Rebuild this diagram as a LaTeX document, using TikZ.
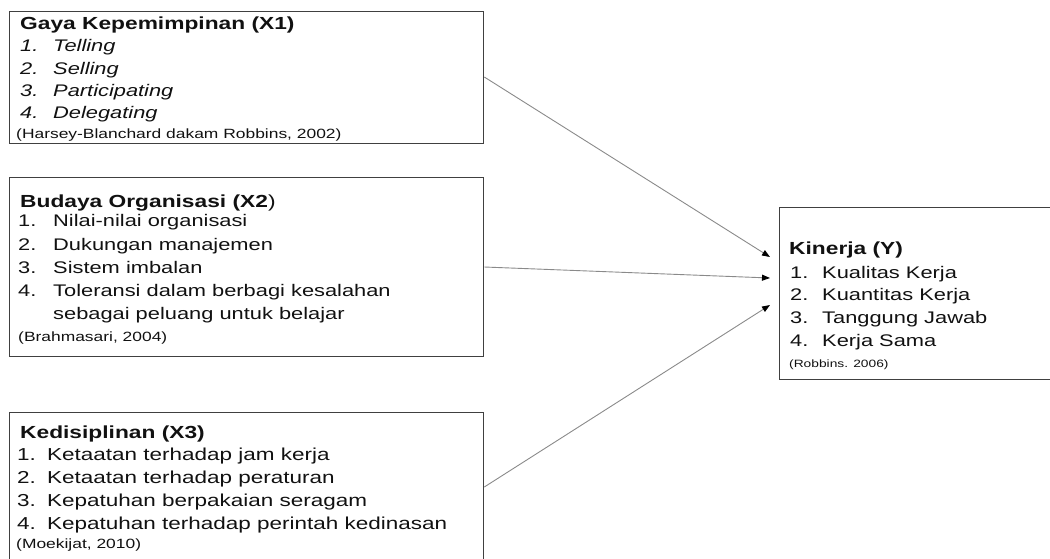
\documentclass[tikz,border=0pt]{standalone}
\usepackage{fontspec}
\setmainfont{Liberation Sans}[FakeStretch=1.3]
\usetikzlibrary{arrows.meta,calc}
\definecolor{boxgray}{HTML}{404040}
\definecolor{linegray}{HTML}{8A8A8A}
\definecolor{ink}{HTML}{111111}
\begin{document}
\begin{tikzpicture}[x=1pt,y=-1pt,
  box/.style={draw=boxgray, line width=1.3pt, rectangle, inner sep=0pt, anchor=north west},
  txt/.style={anchor=base west, inner sep=0pt, text=ink, font=\fontsize{16.8}{20}\selectfont},
  txtb/.style={txt, font=\fontsize{17.3}{20}\selectfont},
  ttl/.style={txt, font=\fontsize{17.5}{20}\selectfont\bfseries},
  cite/.style={anchor=base west, inner sep=0pt, text=ink, font=\fontsize{13.4}{15}\selectfont},
  citesm/.style={cite, font=\fontsize{10.6}{12}\selectfont},
  conn/.style={draw=linegray, line width=0.9pt, -{Triangle[length=8pt,width=6pt,color=black]}}]
\useasboundingbox (0,0) rectangle (1050,558);
\clip (0,0) rectangle (1050,558);
% boxes
\node[box, minimum width=474pt, minimum height=132pt] (x1) at (9,11) {};
\node[box, minimum width=474pt, minimum height=179pt] (x2) at (9,177) {};
\node[box, minimum width=474pt, minimum height=190pt] (x3) at (9,412) {};
\node[box, minimum width=301pt, minimum height=172pt] (y) at (779,207) {};
% box 1 text
\node[ttl] (x1t) at (20,29) {Gaya Kepemimpinan (X1)};
\node[txt] (x1a) at (20,51.7) {\itshape\makebox[33pt][l]{1.}Telling};
\node[txt] (x1b) at (20,74.2) {\itshape\makebox[33pt][l]{2.}Selling};
\node[txt] (x1c) at (20,96.7) {\itshape\makebox[33pt][l]{3.}Participating};
\node[txt] (x1d) at (20,118.7) {\itshape\makebox[33pt][l]{4.}Delegating};
\node[cite] (x1s) at (16,138.5) {(Harsey-Blanchard dakam Robbins, 2002)};
% box 2 text
\node[ttl] (x2t) at (20,207) {Budaya Organisasi (X2\mdseries)};
\node[txt] (x2a) at (18,226.7) {\makebox[35pt][l]{1.}Nilai-nilai organisasi};
\node[txt] (x2b) at (18,250) {\makebox[35pt][l]{2.}Dukungan manajemen};
\node[txt] (x2c) at (18,273.3) {\makebox[35pt][l]{3.}Sistem imbalan};
\node[txt] (x2d) at (18,296.7) {\makebox[35pt][l]{4.}Toleransi dalam berbagi kesalahan};
\node[txt] (x2e) at (53,319.3) {sebagai peluang untuk belajar};
\node[cite] (x2s) at (18,341.5) {(Brahmasari, 2004)};
% box 3 text
\node[ttl] (x3t) at (20,438) {Kedisiplinan (X3)};
\node[txtb] (x3a) at (17,460.7) {\makebox[30pt][l]{1.}Ketaatan terhadap jam kerja};
\node[txtb] (x3b) at (17,483.5) {\makebox[30pt][l]{2.}Ketaatan terhadap peraturan};
\node[txtb] (x3c) at (17,506.7) {\makebox[30pt][l]{3.}Kepatuhan berpakaian seragam};
\node[txtb] (x3d) at (17,529) {\makebox[30pt][l]{4.}Kepatuhan terhadap perintah kedinasan};
\node[cite] (x3s) at (16,548) {(Moekijat, 2010)};
% box Y text
\node[ttl] (yt) at (789,254.5) {Kinerja (Y)};
\node[txt] (ya) at (790,278) {\makebox[32pt][l]{1.}Kualitas Kerja};
\node[txt] (yb) at (790,300.5) {\makebox[32pt][l]{2.}Kuantitas Kerja};
\node[txt] (yc) at (790,323.5) {\makebox[32pt][l]{3.}Tanggung Jawab};
\node[txt] (yd) at (790,346.5) {\makebox[32pt][l]{4.}Kerja Sama};
\node[citesm] (ys) at (789,367) {(Robbins. 2006)};
% connector end points
\coordinate (s1) at ($(x1.north east)+(0,66)$);
\coordinate (s2) at ($(x2.north east)+(0,90)$);
\coordinate (s3) at ($(x3.north east)+(0,75)$);
\coordinate (e1) at ($(y.north west)+(-9,50)$);
\coordinate (e2) at ($(y.north west)+(-9,71)$);
\coordinate (e3) at ($(y.north west)+(-9,98)$);
\draw[conn] (s1) -- (e1);
\draw[conn] (s2) -- (e2);
\draw[conn] (s3) -- (e3);
\end{tikzpicture}
\end{document}
